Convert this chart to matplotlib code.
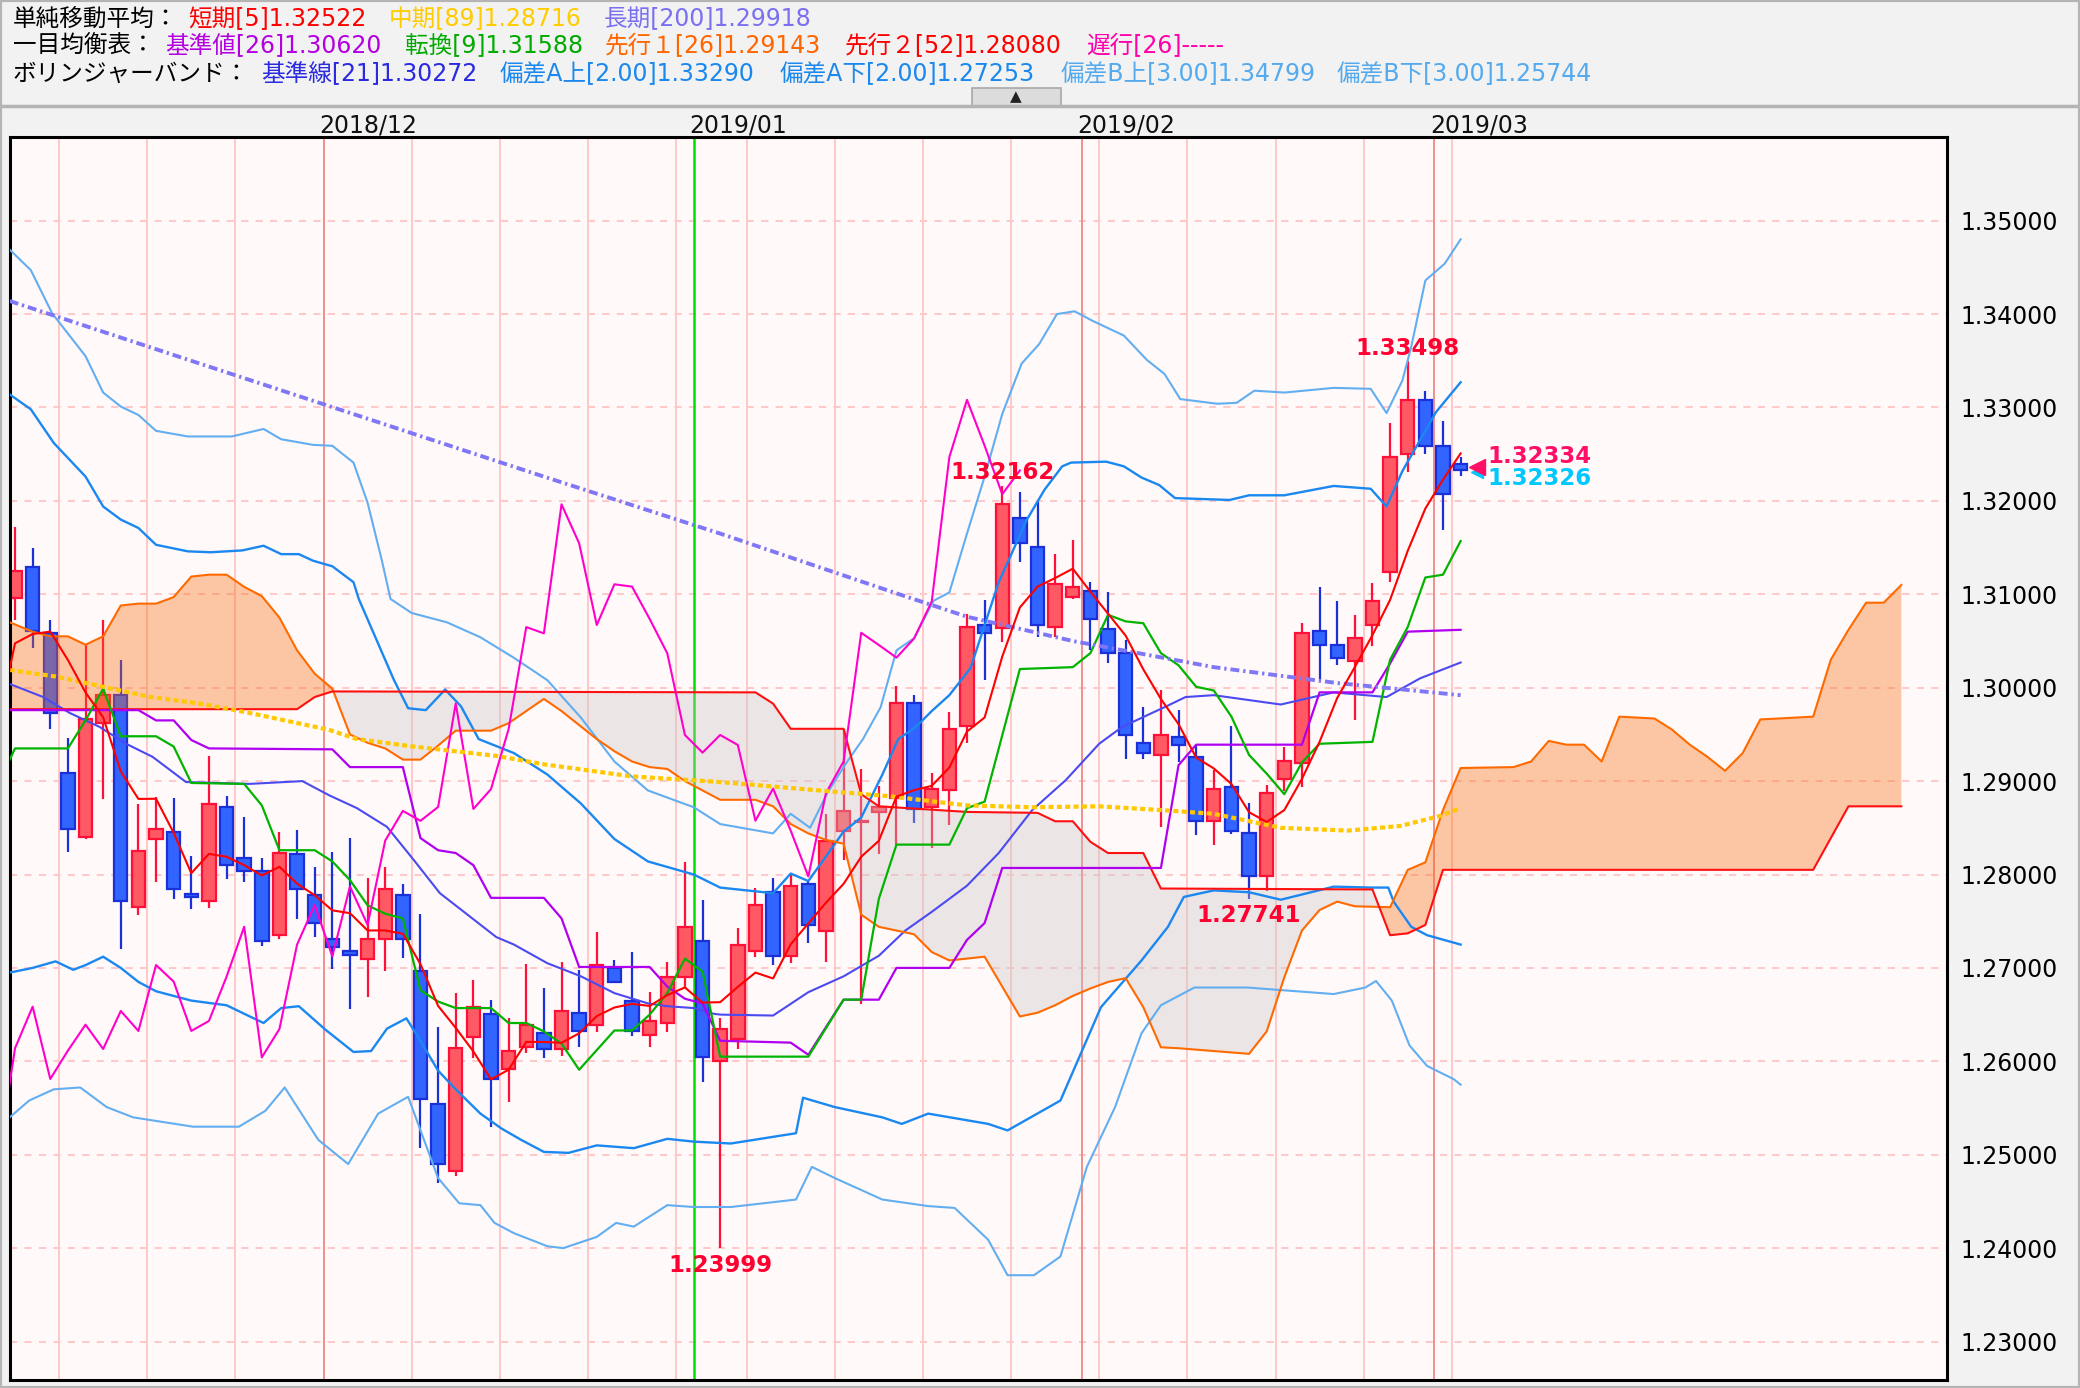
import numpy as np
import matplotlib
matplotlib.use("Agg")
import matplotlib.pyplot as plt
from matplotlib.patches import Rectangle
import matplotlib.transforms as mtransforms

# ---------------- data: daily candles (2018/11 - 2019/03) ----------------
opens = [1.30957, 1.31296, 1.30589, 1.29090, 1.28398, 1.29619, 1.29922, 1.27656, 1.28380, 1.28451,
         1.27788, 1.27716, 1.28726, 1.28173, 1.28041, 1.27349, 1.28216, 1.27780, 1.27309, 1.27185,
         1.27099, 1.27309, 1.27784, 1.26970, 1.25540, 1.24830, 1.26264, 1.26503, 1.25918, 1.26157,
         1.26307, 1.26132, 1.26521, 1.26389, 1.27002, 1.26649, 1.26282, 1.26407, 1.26906, 1.27292,
         1.26003, 1.26234, 1.27178, 1.27809, 1.27123, 1.27893, 1.27398, 1.28465, 1.28562, 1.28668,
         1.28816, 1.29832, 1.28723, 1.28901, 1.29587, 1.30671, 1.30636, 1.31813, 1.31510, 1.30646,
         1.30967, 1.31039, 1.30632, 1.30375, 1.29412, 1.29280, 1.29476, 1.29262, 1.28572, 1.28940,
         1.28442, 1.27980, 1.29022, 1.29198, 1.30608, 1.30457, 1.30281, 1.30670, 1.31242, 1.32501,
         1.33082, 1.32591, 1.32399]
highs = [1.31724, 1.31492, 1.30725, 1.29464, 1.30464, 1.30725, 1.30296, 1.28755, 1.28833, 1.28815,
         1.28198, 1.29269, 1.28841, 1.28619, 1.28173, 1.28452, 1.28473, 1.28084, 1.28237, 1.28387,
         1.27959, 1.28084, 1.27895, 1.27573, 1.26371, 1.26728, 1.26870, 1.26656, 1.26460, 1.27038,
         1.26781, 1.27060, 1.26977, 1.27381, 1.27085, 1.27167, 1.26738, 1.27060, 1.28130, 1.27727,
         1.26460, 1.27428, 1.27855, 1.27961, 1.28020, 1.27927, 1.28647, 1.29557, 1.29134, 1.28943,
         1.30014, 1.29925, 1.29091, 1.29735, 1.30785, 1.30939, 1.32162, 1.32099, 1.31992, 1.31431,
         1.31581, 1.31128, 1.31021, 1.30511, 1.29797, 1.29975, 1.29761, 1.29380, 1.29116, 1.29586,
         1.28769, 1.28961, 1.29370, 1.30690, 1.31078, 1.30927, 1.30780, 1.31119, 1.32836, 1.33498,
         1.33176, 1.32857, 1.32469]
lows = [1.30725, 1.30429, 1.29554, 1.28245, 1.28377, 1.28805, 1.27199, 1.27566, 1.27923, 1.27734,
        1.27627, 1.27645, 1.27948, 1.27923, 1.27238, 1.27306, 1.27520, 1.27327, 1.26985, 1.26556,
        1.26685, 1.26967, 1.27110, 1.25070, 1.24700, 1.24773, 1.26032, 1.25300, 1.25568, 1.26085,
        1.26039, 1.26060, 1.26150, 1.26317, 1.26835, 1.26275, 1.26150, 1.26317, 1.26799, 1.25782,
        1.23999, 1.26128, 1.27114, 1.27030, 1.27051, 1.27262, 1.27068, 1.28160, 1.26615, 1.28224,
        1.28317, 1.28550, 1.28287, 1.28533, 1.29404, 1.30082, 1.30493, 1.31349, 1.30546, 1.30539,
        1.30946, 1.30404, 1.30261, 1.29233, 1.29233, 1.28505, 1.29208, 1.28423, 1.28319, 1.28429,
        1.27741, 1.27828, 1.28891, 1.28932, 1.30089, 1.30240, 1.29656, 1.30445, 1.31128, 1.32305,
        1.32501, 1.31692, 1.32264]
closes = [1.31253, 1.30607, 1.29733, 1.28483, 1.29668, 1.29922, 1.27716, 1.28256, 1.28491, 1.27845,
          1.27763, 1.28751, 1.28102, 1.28041, 1.27288, 1.28234, 1.27845, 1.27484, 1.27227, 1.27138,
          1.27313, 1.27845, 1.27309, 1.25597, 1.24901, 1.26139, 1.26585, 1.25811, 1.26114, 1.26392,
          1.26132, 1.26539, 1.26325, 1.27031, 1.26853, 1.26325, 1.26432, 1.26906, 1.27441, 1.26042,
          1.26346, 1.27250, 1.27673, 1.27123, 1.27872, 1.27461, 1.28363, 1.28681, 1.28575, 1.28723,
          1.29832, 1.28702, 1.28914, 1.29557, 1.30649, 1.30582, 1.31963, 1.31546, 1.30671, 1.31107,
          1.31082, 1.30736, 1.30368, 1.29494, 1.29305, 1.29494, 1.29387, 1.28576, 1.28920, 1.28470,
          1.27980, 1.28871, 1.29210, 1.30588, 1.30457, 1.30322, 1.30527, 1.30923, 1.32469, 1.33082,
          1.32591, 1.32072, 1.32326]

# calendar structure (bar index where a new week / month begins)
week_starts = [3, 8, 13, 18, 23, 28, 33, 38, 42, 47, 52, 57, 62, 67, 72, 77, 82]
month_starts = [18, 39, 61, 81]
month_labels = ["2018/12", "2019/01", "2019/02", "2019/03"]
year_start = 39

# simple moving averages
sma5_prev = 1.2958          # value of the bar just left of the visible window
sma5 = [1.30475, 1.30575, 1.30600, 1.30297, 1.29949, 1.29683, 1.29104, 1.28809, 1.28811, 1.28446,
        1.28014, 1.28221, 1.28190, 1.28100, 1.27989, 1.28083, 1.27902, 1.27778, 1.27616, 1.27586,
        1.27401, 1.27401, 1.27366, 1.27040, 1.26593, 1.26358, 1.26106, 1.25807, 1.25910, 1.26208,
        1.26207, 1.26198, 1.26300, 1.26484, 1.26576, 1.26615, 1.26593, 1.26709, 1.26791, 1.26629,
        1.26633, 1.26797, 1.26950, 1.26887, 1.27253, 1.27476, 1.27698, 1.27900, 1.28190, 1.28361,
        1.28835, 1.28903, 1.28949, 1.29146, 1.29531, 1.29681, 1.30333, 1.30859, 1.31082, 1.31174,
        1.31274, 1.31028, 1.30793, 1.30557, 1.30197, 1.29879, 1.29610, 1.29251, 1.29136, 1.28969,
        1.28667, 1.28563, 1.28690, 1.29024, 1.29421, 1.29890, 1.30221, 1.30563, 1.30940, 1.31465,
        1.31918, 1.32227, 1.32508]
sma89_x = [-0.3, 2.3, 5, 7.7, 10.5, 13.3, 17.8, 19.4, 22.6, 27.3, 30, 35, 40, 45, 49.5, 54, 57.7,
           61.5, 65, 68, 71.8, 75.6, 78.6, 80.9, 82]
sma89_y = [1.3019, 1.3012, 1.3001, 1.2990, 1.2983, 1.2973, 1.2955, 1.2945, 1.2937, 1.2927, 1.2918,
           1.2905, 1.2899, 1.2891, 1.2884, 1.2874, 1.2872, 1.2873, 1.2869, 1.2865, 1.2850, 1.2847,
           1.2852, 1.2863, 1.2871]
sma200_x = [-0.3, 10, 20, 30, 40, 50, 54, 60, 68, 75, 82]
sma200_y = [1.3414, 1.3350, 1.3288, 1.3226, 1.3165, 1.3101, 1.3076, 1.3050, 1.3022, 1.3005, 1.2992]

# ichimoku
kijun_x = [-0.3, 7, 8, 9, 10, 11, 18, 19, 22, 23, 24, 25, 26, 27, 30, 31, 32, 36, 37, 38, 39, 40,
           44, 45, 47, 49, 50, 53, 54, 55, 56, 65, 66, 67, 73, 74, 77, 78, 79, 82]
kijun_y = [1.2976, 1.2976, 1.2965, 1.2965, 1.2944, 1.2935, 1.2934, 1.2915, 1.2915, 1.2839, 1.2826,
           1.2823, 1.2810, 1.2775, 1.2775, 1.2753, 1.2701, 1.2701, 1.2680, 1.2667, 1.2662, 1.2622,
           1.2620, 1.2607, 1.2666, 1.2666, 1.2700, 1.2700, 1.2730, 1.2748, 1.2807, 1.2807, 1.2917,
           1.2939, 1.2939, 1.2995, 1.2995, 1.3026, 1.3060, 1.3062]
tenkan_x = [-0.3, 0, 3, 4, 5, 6, 8, 9, 10, 13, 14, 15, 17, 18, 19, 20, 21, 22, 23, 24, 25, 27, 28,
            29, 30, 31, 32, 33, 34, 35, 36, 37, 38, 39, 40, 45, 47, 48, 49, 50, 53, 54, 55, 56, 57,
            60, 61, 62, 63, 64, 65, 66, 67, 68, 69, 70, 71, 72, 73, 74, 77, 78, 79, 80, 81, 82]
tenkan_y = [1.2923, 1.2935, 1.2935, 1.2965, 1.2999, 1.2948, 1.2948, 1.2937, 1.2898, 1.2897, 1.2874,
            1.2826, 1.2826, 1.2814, 1.2794, 1.2767, 1.2758, 1.2753, 1.2676, 1.2664, 1.2657, 1.2657,
            1.2641, 1.2641, 1.2632, 1.2619, 1.2591, 1.2612, 1.2633, 1.2633, 1.2650, 1.2673, 1.2710,
            1.2696, 1.2605, 1.2605, 1.2666, 1.2666, 1.2774, 1.2832, 1.2832, 1.2871, 1.2878, 1.2949,
            1.3020, 1.3022, 1.3037, 1.3078, 1.3071, 1.3069, 1.3037, 1.3024, 1.3001, 1.2997, 1.2969,
            1.2928, 1.2908, 1.2886, 1.2920, 1.2940, 1.2942, 1.3030, 1.3065, 1.3118, 1.3121, 1.3157]
senkou_a_x = [-0.3, 1, 2, 3, 4, 5, 6, 7, 8, 9, 10, 11, 12, 13, 14, 15, 16, 17, 18, 19, 20, 21, 22,
              23, 24, 25, 27, 28, 29, 30, 31, 32, 33, 34, 35, 36, 37, 38, 39, 40, 42, 43, 44, 45,
              46, 47, 48, 49, 50, 51, 52, 53, 54, 55, 56, 57, 58, 59, 60, 61, 62, 63, 64, 65, 66,
              70, 71, 72, 73, 74, 75, 76, 78, 79, 80, 81, 82, 85, 86, 87, 88, 89, 90, 91, 93, 94,
              95, 96, 97, 98, 99, 102, 103, 104, 105, 106, 107]
senkou_a_y = [1.3070, 1.3060, 1.3055, 1.3055, 1.3046, 1.3055, 1.3088, 1.3090, 1.3090, 1.3097, 1.3119,
              1.3121, 1.3121, 1.3108, 1.3098, 1.3075, 1.3040, 1.3015, 1.2999, 1.2950, 1.2941, 1.2935,
              1.2923, 1.2923, 1.2938, 1.2954, 1.2954, 1.2962, 1.2975, 1.2988, 1.2975, 1.2960, 1.2945,
              1.2932, 1.2921, 1.2915, 1.2913, 1.2900, 1.2890, 1.2880, 1.2880, 1.2873, 1.2854, 1.2844,
              1.2837, 1.2833, 1.2757, 1.2744, 1.2740, 1.2736, 1.2717, 1.2708, 1.2710, 1.2712, 1.2680,
              1.2648, 1.2652, 1.2660, 1.2670, 1.2678, 1.2685, 1.2689, 1.2658, 1.2615, 1.2614, 1.2608,
              1.2632, 1.2690, 1.2740, 1.2762, 1.2771, 1.2766, 1.2765, 1.2805, 1.2813, 1.2869, 1.2914,
              1.2915, 1.2921, 1.2943, 1.2939, 1.2939, 1.2921, 1.2969, 1.2967, 1.2955, 1.2939, 1.2926,
              1.2911, 1.2930, 1.2966, 1.2969, 1.3030, 1.3062, 1.3091, 1.3091, 1.3110]
senkou_b_x = [-0.3, 16, 17, 18, 42, 43, 44, 47, 48, 49, 54, 58, 59, 60, 61, 62, 64, 65, 77, 78, 79,
              80, 81, 102, 104, 107]
senkou_b_y = [1.2977, 1.2977, 1.2990, 1.2996, 1.2995, 1.2983, 1.2956, 1.2956, 1.2886, 1.2873, 1.2867,
              1.2866, 1.2857, 1.2857, 1.2835, 1.2823, 1.2823, 1.2785, 1.2784, 1.2735, 1.2737, 1.2746,
              1.2805, 1.2805, 1.2873, 1.2873]
chikou_shift = 25

# bollinger bands (21)
bb_mid_x = [-0.3, 1.6, 3.1, 4.8, 6.3, 7.8, 9.7, 13.3, 16.3, 17.8, 19.4, 21.1, 22.6, 24.1, 25.6, 27.3,
            28.3, 30.2, 32.1, 34, 35.9, 37, 38.5, 39.6, 40, 43, 45, 47, 49, 50.5, 52, 54, 55.8, 57.7,
            59.6, 61.5, 62.8, 64.5, 65.3, 66.4, 68, 71.8, 74.8, 77.8, 79.7, 82]
bb_mid_y = [1.3004, 1.2990, 1.2973, 1.2958, 1.2940, 1.2926, 1.2899, 1.2897, 1.2900, 1.2885, 1.2871,
            1.2851, 1.2816, 1.2780, 1.2758, 1.2733, 1.2725, 1.2705, 1.2691, 1.2673, 1.2662, 1.2659,
            1.2657, 1.2651, 1.2650, 1.2649, 1.2674, 1.2691, 1.2713, 1.2740, 1.2760, 1.2788, 1.2823,
            1.2869, 1.2901, 1.2940, 1.2958, 1.2973, 1.2980, 1.2990, 1.2992, 1.2982, 1.2995, 1.2990,
            1.3010, 1.3027]
bb_up2_x = [-0.3, 0.9, 2.2, 4, 5, 6, 7, 8, 9.8, 11.1, 12.9, 14.1, 15.1, 16.1, 16.9, 18, 19.2, 19.5,
            21.5, 22.3, 23.3, 24.4, 25.3, 26.3, 28.3, 30.2, 32.1, 34, 35.9, 38.5, 40, 43, 44, 45,
            46.1, 47, 48, 49.2, 50.1, 51.1, 52, 53, 54.2, 55.8, 57.4, 58.4, 59.4, 59.9, 61.9, 62.9,
            63.9, 64.9, 65.8, 68.9, 70, 72, 74.8, 76.9, 77.8, 78.7, 80.6, 82]
bb_up2_y = [1.3314, 1.3298, 1.3262, 1.3226, 1.3194, 1.3180, 1.3171, 1.3153, 1.3146, 1.3145, 1.3147,
            1.3152, 1.3143, 1.3143, 1.3136, 1.3130, 1.3113, 1.3095, 1.3008, 1.2978, 1.2976, 1.2998,
            1.2980, 1.2945, 1.2930, 1.2907, 1.2876, 1.2838, 1.2814, 1.2800, 1.2786, 1.2780, 1.2801,
            1.2793, 1.2822, 1.2846, 1.2861, 1.2907, 1.2945, 1.2958, 1.2975, 1.2992, 1.3021, 1.3113,
            1.3180, 1.3212, 1.3237, 1.3241, 1.3242, 1.3237, 1.3225, 1.3217, 1.3203, 1.3201, 1.3206,
            1.3206, 1.3216, 1.3213, 1.3194, 1.3232, 1.3295, 1.3327]
bb_up3_x = [-0.3, 0.9, 2.1, 4, 5, 6, 7, 8, 9.8, 12.3, 14.1, 15.1, 16.9, 18, 19.2, 20, 20.8, 21.3,
            22.5, 24.5, 26.4, 28.3, 30.2, 32.1, 34, 35.9, 38.5, 40, 43, 44, 45.1, 46.1, 47.1, 48.1,
            49.1, 50, 51, 52.1, 53, 54, 55, 56, 57.1, 58.1, 59.1, 60.1, 61.1, 62.9, 64.2, 65.2, 66.1,
            68.2, 69.3, 70.3, 72, 74.8, 76.9, 77.8, 78.7, 79.2, 80, 81.1, 82]
bb_up3_y = [1.3469, 1.3447, 1.3401, 1.3355, 1.3316, 1.3301, 1.3292, 1.3275, 1.3269, 1.3269, 1.3277,
            1.3266, 1.3260, 1.3259, 1.3241, 1.3198, 1.3137, 1.3095, 1.3080, 1.3070, 1.3054, 1.3032,
            1.3008, 1.2968, 1.2921, 1.2890, 1.2872, 1.2854, 1.2844, 1.2865, 1.2850, 1.2888, 1.2918,
            1.2945, 1.2979, 1.3040, 1.3053, 1.3093, 1.3102, 1.3165, 1.3226, 1.3293, 1.3347, 1.3368,
            1.3400, 1.3403, 1.3393, 1.3377, 1.3351, 1.3336, 1.3309, 1.3304, 1.3305, 1.3318, 1.3316,
            1.3321, 1.3320, 1.3294, 1.3329, 1.3365, 1.3436, 1.3454, 1.3480]
bb_dn2_x = [-0.3, 1, 2.3, 3.3, 4, 5, 6, 7, 8, 10, 12, 13.1, 14.1, 15.1, 16.1, 17.6, 19.2, 20.2, 21.1,
            22.2, 22.8, 24, 25, 26.4, 27.6, 28.7, 30, 31.4, 33, 35.1, 37, 38.5, 40.6, 44.3, 44.7,
            46.5, 49.2, 50.3, 51.8, 55.2, 56.3, 59.3, 61.6, 63.9, 65.4, 66.3, 68, 70, 71.8, 74.8, 77,
            77.9, 78.2, 79.2, 80.1, 82]
bb_dn2_y = [1.2695, 1.2700, 1.2707, 1.2698, 1.2703, 1.2712, 1.2700, 1.2685, 1.2675, 1.2665, 1.2660,
            1.2650, 1.2641, 1.2657, 1.2659, 1.2634, 1.2610, 1.2611, 1.2635, 1.2646, 1.2628, 1.2590,
            1.2570, 1.2544, 1.2528, 1.2516, 1.2503, 1.2502, 1.2510, 1.2507, 1.2517, 1.2514, 1.2512,
            1.2523, 1.2561, 1.2551, 1.2540, 1.2533, 1.2544, 1.2533, 1.2526, 1.2558, 1.2658, 1.2708,
            1.2744, 1.2776, 1.2783, 1.2781, 1.2773, 1.2787, 1.2786, 1.2786, 1.2771, 1.2744, 1.2735,
            1.2725]
bb_dn3_x = [-0.3, 0.8, 2.2, 3.7, 5.2, 6.7, 10.1, 12.7, 14.2, 15.3, 17.2, 18.9, 20.6, 22.3, 24, 25.2,
            26.4, 27.2, 28.3, 30.2, 31.1, 33, 34.1, 35.1, 37, 38.5, 40.6, 44.3, 45.2, 46.5, 49.2,
            51.8, 53.3, 55.2, 56.3, 57.8, 59.3, 60.8, 62.4, 63.9, 65, 66.9, 69.9, 74.8, 76.6, 77.2,
            78.1, 79.1, 80.1, 81.6, 82]
bb_dn3_y = [1.2540, 1.2558, 1.2570, 1.2572, 1.2551, 1.2540, 1.2530, 1.2530, 1.2547, 1.2572, 1.2516,
            1.2490, 1.2544, 1.2562, 1.2475, 1.2448, 1.2446, 1.2427, 1.2416, 1.2402, 1.2400, 1.2412,
            1.2427, 1.2423, 1.2446, 1.2444, 1.2444, 1.2452, 1.2487, 1.2475, 1.2452, 1.2445, 1.2443,
            1.2409, 1.2371, 1.2371, 1.2391, 1.2487, 1.2551, 1.2630, 1.2660, 1.2679, 1.2679, 1.2672,
            1.2679, 1.2686, 1.2665, 1.2617, 1.2595, 1.2581, 1.2575]

price_ticks = [1.23, 1.24, 1.25, 1.26, 1.27, 1.28, 1.29, 1.30, 1.31, 1.32, 1.33, 1.34, 1.35]
high_marks = [(56, "1.32162"), (79, "1.33498")]
low_marks = [(40, "1.23999"), (70, "1.27741")]
ask_price, bid_price = 1.32334, 1.32326

header_rows = [
    [("単純移動平均：", "#000000"), ("短期[5]1.32522", "#ff0000"), ("中期[89]1.28716", "#ffcc00"),
     ("長期[200]1.29918", "#7a70f0")],
    [("一目均衡表：", "#000000"), ("基準値[26]1.30620", "#b400e0"), ("転換[9]1.31588", "#00aa00"),
     ("先行１[26]1.29143", "#ff6600"), ("先行２[52]1.28080", "#ff0000"), ("遅行[26]-----", "#ff00aa")],
    [("ボリンジャーバンド：", "#000000"), ("基準線[21]1.30272", "#2a2ae0"),
     ("偏差A上[2.00]1.33290", "#1a88ee"), ("偏差A下[2.00]1.27253", "#1a88ee"),
     ("偏差B上[3.00]1.34799", "#55aaee"), ("偏差B下[3.00]1.25744", "#55aaee")],
]
header_x = [[13, 188, 389, 604], [13, 165, 405, 605, 845, 1086], [13, 261, 500, 780, 1061, 1337]]
header_y = [19, 46, 74]

# ---------------- figure ----------------
W, H = 2080, 1388
FONT = ["DejaVu Sans", "Noto Sans CJK JP"]
plt.rcParams["font.family"] = FONT

fig = plt.figure(figsize=(W / 100, H / 100), dpi=100)
fig.patch.set_facecolor("#f2f2f2")


def fx(px):
    return px / W


def fy(py):
    return 1 - py / H


# frame & header separator
fig.add_artist(Rectangle((0, 0), 1, 1, transform=fig.transFigure, fill=False,
                         edgecolor="#b4b4b4", linewidth=3))
fig.add_artist(plt.Line2D([0, 1], [fy(106), fy(106)], transform=fig.transFigure,
                          color="#b4b4b4", linewidth=2.5))
for row, xs, y in zip(header_rows, header_x, header_y):
    for (txt, col), x in zip(row, xs):
        fig.text(fx(x), fy(y), txt, color=col, fontsize=17, va="center", ha="left",
                 family=FONT)
# collapse button
fig.add_artist(Rectangle((fx(972), fy(106)), (1061 - 972) / W, 18 / H, transform=fig.transFigure,
                         facecolor="#dcdcdc", edgecolor="#a8a8a8", linewidth=1.2))
fig.text(fx(1016), fy(97), "▲", fontsize=11, ha="center", va="center", color="#222222")

ax = fig.add_axes([fx(10), fy(1380), (1947 - 10) / W, (1380 - 137) / H])
ax.set_facecolor("#fff9f9")
ax.set_xlim(-0.284, 109.59)
ax.set_ylim(1.22588, 1.35896)
for s in ax.spines.values():
    s.set_color("black")
    s.set_linewidth(2.2)
ax.set_xticks([])
ax.yaxis.tick_right()
ax.set_yticks(price_ticks)
ax.set_yticklabels(["%.5f" % p for p in price_ticks])
ax.tick_params(axis="y", length=0, pad=10, labelsize=17)

# grid
for p in price_ticks:
    ax.axhline(p, color="#ffc4c4", linewidth=1.3, linestyle=(0, (4, 4)), zorder=0.5)
for w in week_starts:
    ax.axvline(w - 0.5, color="#ffc8c8", linewidth=1.4, zorder=0.6)
for m in month_starts:
    if m == year_start:
        ax.axvline(m - 0.5, color="#00e000", linewidth=1.8, zorder=0.7)
    else:
        ax.axvline(m - 0.5, color="#f09090", linewidth=1.4, zorder=0.7)
blend = mtransforms.blended_transform_factory(ax.transData, ax.transAxes)
for m, lab in zip(month_starts, month_labels):
    ax.annotate(lab, xy=(m - 0.5, 1.0), xycoords=blend, xytext=(-3, 3),
                textcoords="offset points", ha="left", va="baseline", fontsize=17,
                color="#111111", annotation_clip=False)

# candles
o = np.array(opens)
c = np.array(closes)
hi = np.array(highs)
lo = np.array(lows)
idx = np.arange(len(o))
up = c >= o
for mask, wick, face, edge in [(up, "#ff1038", "#ff5a64", "#ff1038"),
                               (~up, "#1a30d8", "#3264ff", "#1a30d8")]:
    ax.vlines(idx[mask], lo[mask], hi[mask], color=wick, linewidth=1.6, zorder=2)
    bottoms = np.minimum(o, c)[mask]
    heights = np.maximum(np.abs(c - o)[mask], 0.00012)
    ax.bar(idx[mask], heights, bottom=bottoms, width=0.76, color=face, edgecolor=edge,
           linewidth=1.6, zorder=2.1)

# cloud (kumo) fill over candles
grid = np.arange(-0.3, 107.001, 0.02)
sa = np.interp(grid, senkou_a_x, senkou_a_y)
sb = np.interp(grid, senkou_b_x, senkou_b_y)
ax.fill_between(grid, sa, sb, where=sa >= sb, interpolate=True, color="#f96d11", alpha=0.36,
                linewidth=0, zorder=2.5)
ax.fill_between(grid, sa, sb, where=sa < sb, interpolate=True, color="#c9c4c4", alpha=0.36,
                linewidth=0, zorder=2.5)

# indicator lines
ax.plot(bb_up3_x, bb_up3_y, color="#62aef0", linewidth=1.5, zorder=3)
ax.plot(bb_dn3_x, bb_dn3_y, color="#62aef0", linewidth=1.5, zorder=3)
ax.plot(bb_up2_x, bb_up2_y, color="#1a88f0", linewidth=1.7, zorder=3)
ax.plot(bb_dn2_x, bb_dn2_y, color="#1a88f0", linewidth=1.7, zorder=3)
ax.plot(bb_mid_x, bb_mid_y, color="#4a4af0", linewidth=1.5, zorder=3)
ax.plot(senkou_a_x, senkou_a_y, color="#ff6a00", linewidth=1.5, zorder=3.1)
ax.plot(senkou_b_x, senkou_b_y, color="#ff1010", linewidth=1.5, zorder=3.1)
ax.plot(kijun_x, kijun_y, color="#b000f0", linewidth=1.6, zorder=3.2)
ax.plot(tenkan_x, tenkan_y, color="#00b400", linewidth=1.6, zorder=3.2)
chik_x = idx[chikou_shift - 1:] - chikou_shift
ax.plot(chik_x, c[chikou_shift - 1:], color="#ff00cc", linewidth=1.5, zorder=3.2)
ax.plot(sma89_x, sma89_y, color="#ffc800", linewidth=3.0, linestyle=(0, (1.2, 0.8)), zorder=3.3)
ax.plot(sma200_x, sma200_y, color="#7f77f5", linewidth=2.8,
        linestyle=(0, (2.3, 1.0, 0.6, 1.0)), zorder=3.3)
ax.plot(np.concatenate([[-1], idx]), [sma5_prev] + sma5, color="#ff0000", linewidth=1.5,
        zorder=3.4)

# high / low labels
for i, lab in high_marks:
    ax.annotate(lab, xy=(i, highs[i]), xytext=(0, 1), textcoords="offset points", ha="center",
                va="bottom", fontsize=16.5, fontweight="bold", color="#ff0030", zorder=5)
for i, lab in low_marks:
    ax.annotate(lab, xy=(i, lows[i]), xytext=(0, -4), textcoords="offset points", ha="center",
                va="top", fontsize=16.5, fontweight="bold", color="#ff0030", zorder=5)

# current price marker
last = len(o) - 1
ax.plot([last + 0.95], [bid_price - 0.0002], marker="<", markersize=9, color="#00c8ff", zorder=5)
ax.plot([last + 0.95], [ask_price + 0.0003], marker="<", markersize=11, color="#ff1066", zorder=5)
ax.annotate("%.5f" % ask_price, xy=(last + 1.5, ask_price + 0.0003), xytext=(0, -1),
            textcoords="offset points", ha="left", va="bottom", fontsize=16.5, fontweight="bold",
            color="#ff1066", zorder=5)
ax.annotate("%.5f" % bid_price, xy=(last + 1.5, ask_price + 0.0003), xytext=(0, 0),
            textcoords="offset points", ha="left", va="top", fontsize=16.5, fontweight="bold",
            color="#00c8ff", zorder=5)

fig.savefig("out.png", dpi=100, facecolor=fig.get_facecolor())
